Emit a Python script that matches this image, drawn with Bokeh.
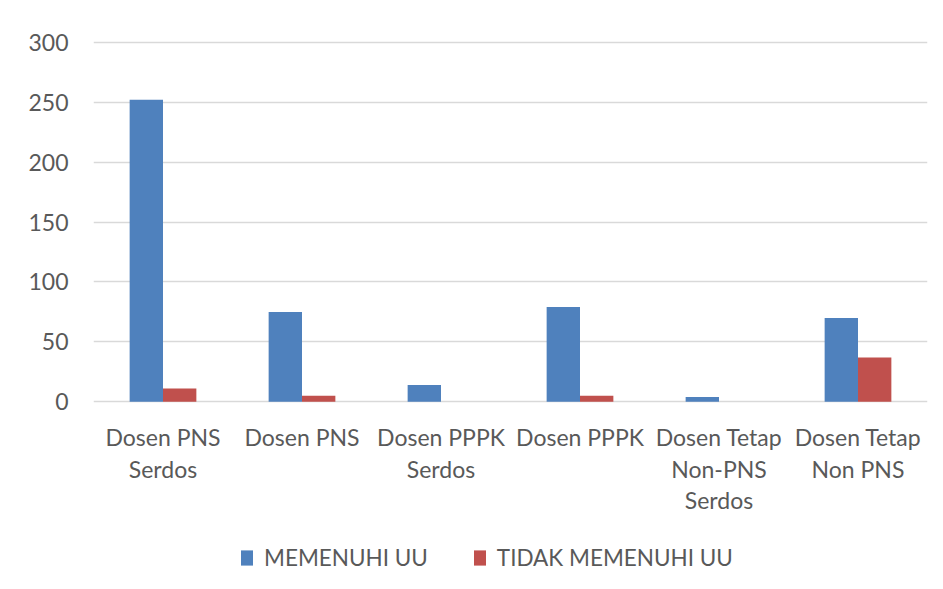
from bokeh.plotting import figure
from bokeh.models import FactorRange, Range1d, ColumnDataSource, Legend, LegendItem
from bokeh.core.properties import value
from bokeh.transform import dodge
from bokeh.embed import file_html
from bokeh.resources import INLINE

categories = ["Dosen PNS\nSerdos", "Dosen PNS", "Dosen PPPK\nSerdos", "Dosen PPPK",
              "Dosen Tetap\nNon-PNS\nSerdos", "Dosen Tetap\nNon PNS"]
memenuhi = [252, 75, 14, 79, 4, 70]
tidak_memenuhi = [11, 5, 0, 5, 0, 37]
series_names = ["MEMENUHI UU", "TIDAK MEMENUHI UU"]
y_ticks = [0, 50, 100, 150, 200, 250, 300]

FONT = "Lato"
TXT = "#595959"
GRID = "#D9D9D9"

src = ColumnDataSource(dict(cat=categories, a=memenuhi, b=tidak_memenuhi))

p = figure(width=935, height=581, x_range=FactorRange(*categories, range_padding=0),
           y_range=Range1d(-150, 301.5), output_backend="svg", toolbar_location=None,
           x_axis_location=None,
           min_border_left=93, min_border_right=8, min_border_top=40, min_border_bottom=0)
p.outline_line_color = None
p.background_fill_color = "white"
p.border_fill_color = "white"

r1 = p.vbar(x=dodge("cat", -0.12, range=p.x_range), top="a", width=0.24, source=src,
            fill_color="#4F81BD", line_color=None)
r2 = p.vbar(x=dodge("cat", 0.12, range=p.x_range), top="b", width=0.24, source=src,
            fill_color="#C0504D", line_color=None)

# category labels below the zero line
p.text(x="cat", y=-18.0, text="cat", source=src, text_align="center", text_baseline="top",
       text_font=value(FONT), text_font_size="23px", text_color=TXT, text_line_height=1.12)

p.xgrid.grid_line_color = None
p.ygrid.grid_line_color = GRID
p.ygrid.grid_line_width = 1.5
p.yaxis.ticker = y_ticks

ax = p.yaxis[0]
ax.major_tick_line_color = None
ax.minor_tick_line_color = None
ax.major_tick_out = 0
ax.major_tick_in = 0
ax.major_label_text_font = FONT
ax.major_label_text_font_size = "23px"
ax.major_label_text_color = TXT
ax.axis_line_color = None
ax.major_label_standoff = 25

legend = Legend(items=[LegendItem(label=series_names[0], renderers=[r1]),
                       LegendItem(label=series_names[1], renderers=[r2])],
                location=(146, 10), orientation="horizontal")
legend.glyph_width = 15
legend.glyph_height = 19
legend.label_standoff = 10
legend.spacing = 44
legend.padding = 0
legend.margin = 0
legend.border_line_color = None
legend.background_fill_alpha = 0
legend.label_text_font = FONT
legend.label_text_font_size = "22.5px"
legend.label_text_color = TXT
p.add_layout(legend, "center")

open("out.html", "w").write(file_html(p, INLINE))
